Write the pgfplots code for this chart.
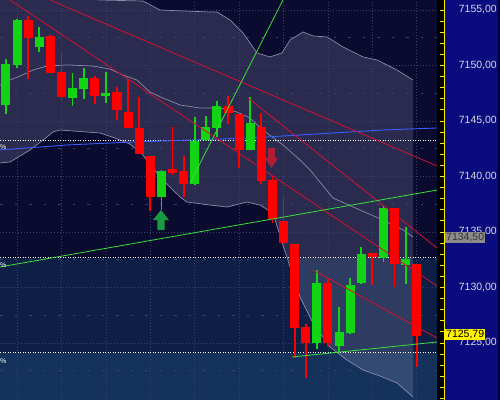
\documentclass[border=0pt]{standalone}
\usepackage{pgfplots}
\pgfplotsset{compat=1.18}
\usepackage{pgfplotstable}
\usepackage{fontspec}
\setmainfont{Liberation Sans}
\definecolor{zoneA}{HTML}{0A0B2E}
\definecolor{zoneC}{HTML}{0E1F46}
\definecolor{zoneD}{HTML}{14325C}
\definecolor{bandfill}{HTML}{C0C0E0}
\definecolor{bandline}{HTML}{8A8AAA}
\definecolor{gridc}{HTML}{34426C}
\definecolor{candr}{HTML}{FF0000}
\definecolor{candg}{HTML}{12D412}
\definecolor{trendr}{HTML}{D41030}
\definecolor{trendg}{HTML}{3CE03C}
\definecolor{mablue}{HTML}{3A5CFF}
\definecolor{panel}{HTML}{0B0B80}
\definecolor{ticklab}{HTML}{D8D8D8}
\definecolor{arrg}{HTML}{1A9A40}
\definecolor{arrr}{HTML}{B01E35}
\definecolor{tagg}{HTML}{8C8C8C}

\pgfplotstableread{
i o h l c
2 7154.19 7154.55 7148.87 7152.57
4 7152.84 7152.84 7149.41 7149.50
5 7149.41 7151.13 7146.98 7147.16
8 7148.96 7149.23 7146.71 7147.34
10 7147.61 7148.24 7145.27 7145.99
11 7145.90 7148.78 7144.46 7144.46
12 7144.46 7147.16 7142.12 7142.12
13 7141.94 7141.94 7136.98 7138.24
15 7140.77 7144.64 7140.32 7140.41
16 7140.59 7141.94 7138.33 7139.41
20 7146.44 7147.34 7144.82 7145.81
21 7145.72 7145.72 7140.86 7142.48
23 7144.55 7145.81 7139.41 7139.68
24 7139.68 7140.14 7135.90 7136.17
25 7136.08 7138.15 7133.83 7134.01
26 7134.01 7134.01 7123.74 7126.44
27 7126.44 7126.80 7121.94 7125.00
29 7130.41 7130.95 7124.82 7125.00
33 7133.11 7133.11 7130.23 7132.75
35 7137.16 7137.16 7130.14 7132.12
37 7132.30 7132.30 7123.02 7125.79
}\redc

\pgfplotstableread{
i o h l c
0 7146.44 7150.68 7145.72 7150.14
1 7150.14 7154.19 7149.77 7154.19
3 7151.76 7153.47 7151.22 7152.66
6 7147.07 7149.41 7146.44 7147.97
7 7147.97 7149.86 7147.07 7148.96
9 7147.34 7149.41 7146.62 7147.61
14 7138.24 7140.77 7137.16 7140.59
17 7139.41 7145.54 7139.41 7143.29
18 7143.29 7145.54 7143.29 7144.46
19 7144.46 7146.98 7143.74 7146.44
22 7142.48 7147.16 7142.48 7144.91
28 7125.00 7131.67 7124.55 7130.41
30 7124.82 7128.24 7124.19 7126.08
31 7126.08 7130.95 7125.90 7130.41
32 7130.41 7133.74 7130.41 7133.02
34 7132.75 7137.43 7132.30 7137.25
36 7132.12 7135.54 7130.41 7132.66
}\greenc

\begin{document}
\begin{tikzpicture}
\begin{axis}[
  set layers,
  scale only axis, width=500pt, height=399pt,
  xmin=-0.5405, xmax=44.505, ymin=7119.955, ymax=7155.901,
  axis line style={draw=none},
  xtick={1,5,...,37}, xticklabels={}, xmajorgrids, xtick style={draw=none},
  major grid style={gridc, line width=0.7pt, dash pattern=on 0.8pt off 2.2pt},
  ytick={7125,7130,...,7155},
  yticklabels={{7125,00},{7130,00},{7135,00},{7140,00},{7145,00},{7150,00},{7155,00}},
  minor ytick={7120,7121,...,7155},
  ytick pos=right, yticklabel pos=right,
  tick align=outside, major tick length=4pt, minor tick length=4pt,
  ytick style={draw=yellow, line width=0.9pt, xshift=-60pt},
  yticklabel style={font=\fontsize{10.5}{12}\selectfont, text=ticklab, anchor=east, inner sep=0pt, xshift=-7pt},
]
% background zones, strip and price panel
\addplot[draw=none, fill=zoneA, on layer=axis background] coordinates {(-1,7132.66) (38.829,7132.66) (38.829,7157) (-1,7157)} -- cycle;
\addplot[draw=none, fill=zoneC, on layer=axis background] coordinates {(-1,7124.10) (38.829,7124.10) (38.829,7132.66) (-1,7132.66)} -- cycle;
\addplot[draw=none, fill=zoneD, on layer=axis background] coordinates {(-1,7119) (38.829,7119) (38.829,7124.10) (-1,7124.10)} -- cycle;
\addplot[draw=none, fill=black, on layer=axis background] coordinates {(38.829,7119) (39.46,7119) (39.46,7157) (38.829,7157)} -- cycle;
\addplot[draw=none, fill=panel, on layer=axis background] coordinates {(39.46,7119) (44.33,7119) (44.33,7157) (39.46,7157)} -- cycle;
\addplot[draw=none, fill=black!80!blue, on layer=axis background] coordinates {(44.33,7119) (45,7119) (45,7157) (44.33,7157)} -- cycle;
\addplot[yellow, line width=1pt, on layer=axis background] coordinates {(39.505,7119) (39.505,7157)};
% Bollinger band fill
\addplot[draw=none, fill=bandfill, fill opacity=0.18, on layer=axis background] coordinates {
(-0.54,7156.80) (3.96,7156.35) (8.47,7155.90) (12.34,7155.81) (13.87,7155.00) (18.38,7154.82) (19.01,7154.82) (20.18,7154.10) (21.35,7152.93) (22.61,7151.13) (23.78,7150.77) (24.86,7151.13) (25.59,7152.30) (26.76,7153.02) (27.66,7152.66) (28.92,7152.57) (30.36,7151.67) (32.16,7150.77) (33.42,7150.50) (35.23,7149.59) (36.67,7148.69)
(36.67,7120.14) (35.23,7121.40) (33.69,7122.03) (32.16,7122.57) (30.72,7123.47) (29.19,7124.64) (27.66,7126.80) (26.49,7129.14) (24.95,7133.83) (24.05,7136.71) (22.88,7137.43) (21.71,7137.70) (19.91,7137.25) (18.38,7137.43) (16.31,7137.70) (15.68,7138.15) (14.14,7139.68) (12.97,7141.04) (12.34,7141.94) (11.17,7142.93) (9.82,7143.47) (8.47,7143.92) (4.86,7144.19) (4.23,7144.01) (3.69,7143.56) (2.16,7142.39) (0.36,7141.31) (-0.54,7141.22)
} -- cycle;
% horizontal grid (price levels)
\pgfplotsinvokeforeach{7125,7130,7135,7140,7145,7150,7155}{
  \addplot[gridc, line width=0.7pt, dash pattern=on 0.8pt off 2.2pt, on layer=axis grid] coordinates {(-0.54,#1) (38.829,#1)};
}
\pgfplotsinvokeforeach{7122.5,7127.5,7132.5,7137.5,7142.5,7147.5,7152.5}{
  \addplot[gridc, line width=0.7pt, dash pattern=on 2.5pt off 12pt, on layer=axis grid] coordinates {(-0.54,#1) (38.829,#1)};
}
% band lines
\addplot[bandline, line width=0.7pt] coordinates {
(-0.54,7156.80) (3.96,7156.35) (8.47,7155.90) (12.34,7155.81) (13.87,7155.00) (18.38,7154.82) (19.01,7154.82) (20.18,7154.10) (21.35,7152.93) (22.61,7151.13) (23.78,7150.77) (24.86,7151.13) (25.59,7152.30) (26.76,7153.02) (27.66,7152.66) (28.92,7152.57) (30.36,7151.67) (32.16,7150.77) (33.42,7150.50) (35.23,7149.59) (36.67,7148.69)};
\addplot[bandline, line width=0.7pt] coordinates {
(-0.54,7148.24) (0.36,7148.69) (1.26,7149.05) (2.43,7149.59) (3.69,7149.95) (5.50,7150.05) (7.84,7149.95) (9.37,7149.68) (10.54,7149.14) (11.80,7148.69) (12.97,7147.61) (14.14,7147.07) (15.68,7146.44) (17.48,7146.17) (19.28,7146.17) (20.81,7145.81) (21.98,7145.27) (23.15,7144.19) (24.95,7142.84) (26.49,7141.49) (27.39,7140.59) (29.46,7138.06) (31.89,7136.98) (33.96,7136.08) (35.77,7135.18) (36.67,7134.55)};
\addplot[bandline, line width=0.7pt] coordinates {
(-0.54,7141.22) (0.36,7141.31) (2.16,7142.39) (3.69,7143.56) (4.23,7144.01) (4.86,7144.19) (8.47,7143.92) (9.82,7143.47) (11.17,7142.93) (12.34,7141.94) (12.97,7141.04) (14.14,7139.68) (15.68,7138.15) (16.31,7137.70) (18.38,7137.43) (19.91,7137.25) (21.71,7137.70) (22.88,7137.43) (24.05,7136.71) (24.95,7133.83) (26.49,7129.14) (27.66,7126.80) (29.19,7124.64) (30.72,7123.47) (32.16,7122.57) (33.69,7122.03) (35.23,7121.40) (36.67,7120.14)};
% white dotted levels
\addplot[white, line width=1pt, dash pattern=on 1pt off 1.5pt] coordinates {(-0.54,7143.24) (38.829,7143.24)};
\addplot[white, line width=1pt, dash pattern=on 1pt off 1.5pt] coordinates {(-0.54,7132.66) (38.829,7132.66)};
\addplot[white, line width=1pt, dash pattern=on 1pt off 1.5pt] coordinates {(-0.54,7124.10) (38.829,7124.10)};
% blue average
\addplot[mablue, line width=0.9pt] coordinates {(-0.54,7142.39) (5.50,7142.84) (11.44,7143.11) (21.98,7143.47) (29.46,7143.92) (33.96,7144.19) (38.829,7144.37)};
% candles: wicks
\addplot[draw=none, mark=none, error bars/.cd, y dir=both, y explicit, error mark=none, error bar style={draw=candr, line width=1.8pt}]
  table[x=i, y expr={(\thisrow{h}+\thisrow{l})/2}, y error expr={(\thisrow{h}-\thisrow{l})/2}] {\redc};
\addplot[draw=none, mark=none, error bars/.cd, y dir=both, y explicit, error mark=none, error bar style={draw=candg, line width=1.8pt}]
  table[x=i, y expr={(\thisrow{h}+\thisrow{l})/2}, y error expr={(\thisrow{h}-\thisrow{l})/2}] {\greenc};
% candles: bodies
\addplot[draw=none, mark=none, error bars/.cd, y dir=both, y explicit, error mark=none, error bar style={draw=candr, line width=9pt}]
  table[x=i, y expr={(\thisrow{o}+\thisrow{c})/2}, y error expr={abs(\thisrow{o}-\thisrow{c})/2}] {\redc};
\addplot[draw=none, mark=none, error bars/.cd, y dir=both, y explicit, error mark=none, error bar style={draw=candg, line width=9pt}]
  table[x=i, y expr={(\thisrow{o}+\thisrow{c})/2}, y error expr={abs(\thisrow{o}-\thisrow{c})/2}] {\greenc};
% trend lines
\addplot[trendr, line width=0.8pt] coordinates {(3.96,7155.90) (38.829,7140.95)};
\addplot[trendr, line width=0.8pt] coordinates {(0.36,7155.90) (38.829,7130.14)};
\addplot[trendr, line width=0.8pt] coordinates {(21.80,7147.07) (38.829,7133.56)};
\addplot[trendr, line width=0.8pt] coordinates {(27.66,7131.58) (38.829,7125.45)};
\addplot[trendg, line width=0.8pt] coordinates {(16.58,7139.41) (24.95,7155.90)};
\addplot[trendg, line width=0.8pt] coordinates {(-0.54,7131.85) (38.829,7138.78)};
\addplot[trendg, line width=0.8pt] coordinates {(25.77,7123.74) (38.829,7125.09)};
% signal arrows
\addplot[draw=none, fill=arrg] coordinates {(13.96,7136.98) (14.68,7136.08) (14.28,7136.08) (14.28,7135.18) (13.64,7135.18) (13.64,7136.08) (13.24,7136.08)} -- cycle;
\addplot[draw=none, fill=arrr] coordinates {(23.62,7142.57) (24.22,7142.57) (24.22,7141.67) (24.52,7141.67) (23.92,7140.77) (23.32,7141.67) (23.62,7141.67)} -- cycle;
\coordinate (t1) at (axis cs:38.829,7134.50);
\coordinate (t2) at (axis cs:38.829,7125.79);
\end{axis}
\node[anchor=west, fill=tagg, text=black!80, inner xsep=1pt, inner ysep=1pt, text height=7.6pt, text depth=1.6pt, font=\fontsize{10.5}{12}\selectfont] at ([xshift=8pt]t1) {7134,50};
\node[anchor=west, fill=yellow, text=black, inner xsep=1pt, inner ysep=1pt, text height=7.6pt, text depth=1.6pt, font=\fontsize{10.5}{12}\selectfont] at ([xshift=8pt]t2) {7125,79};
\node[anchor=west, text=white, inner sep=0pt, font=\fontsize{7}{8}\selectfont] at (0pt,252pt) {\%};
\node[anchor=west, text=white, inner sep=0pt, font=\fontsize{7}{8}\selectfont] at (0pt,134pt) {\%};
\node[anchor=west, text=white, inner sep=0pt, font=\fontsize{7}{8}\selectfont] at (0pt,38pt) {\%};
\pgfresetboundingbox
\useasboundingbox (0,0) rectangle (500pt,399pt);
\end{tikzpicture}
\end{document}
